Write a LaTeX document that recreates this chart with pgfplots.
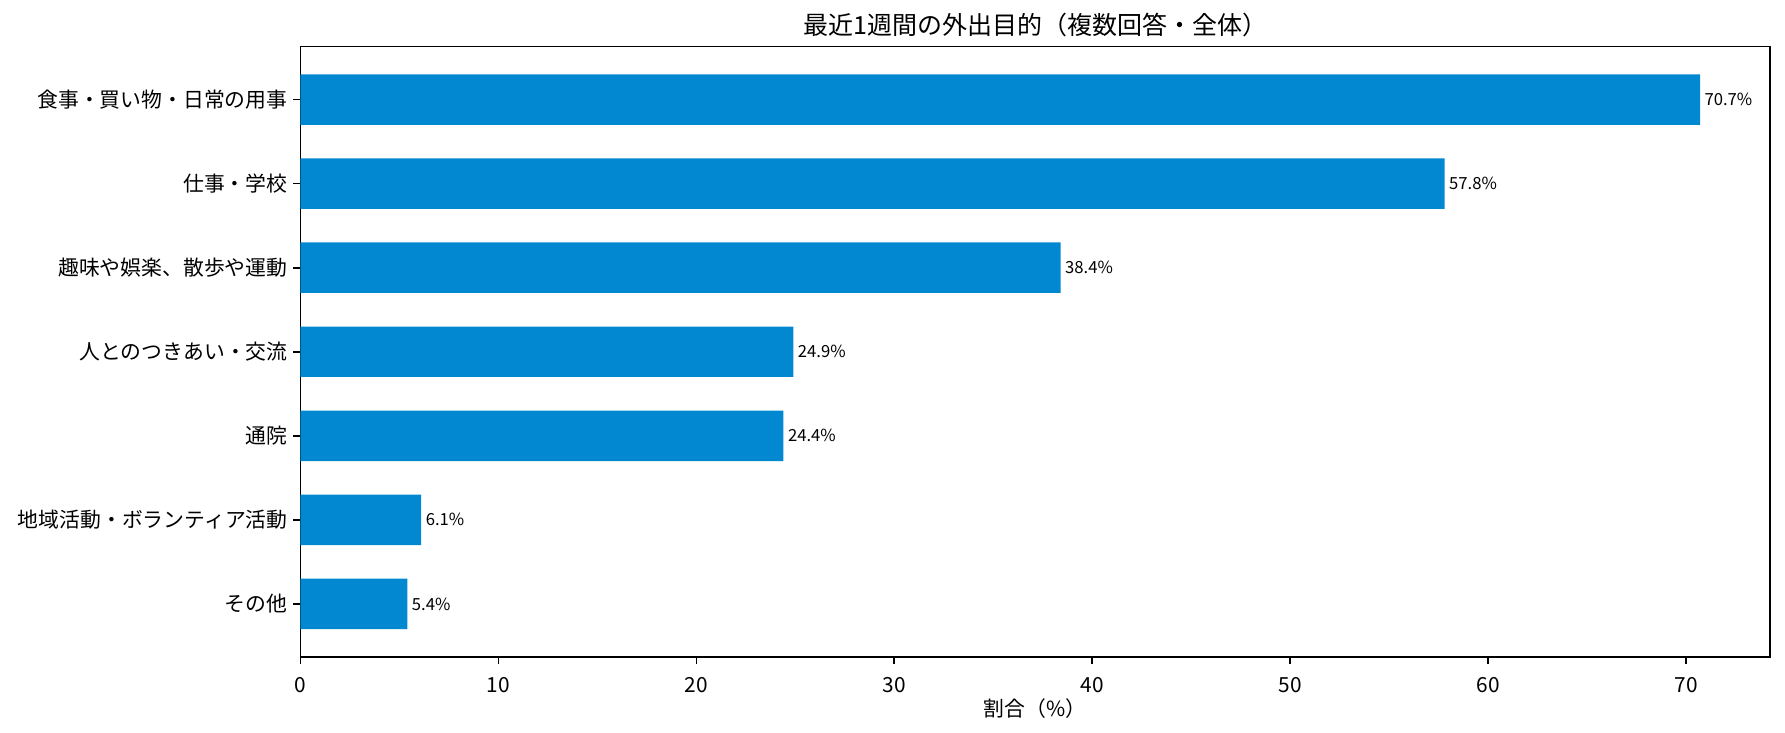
\documentclass[border=0pt]{standalone}
\usepackage{fontspec}
\setmainfont{Noto Sans CJK JP}
\usepackage{pgfplots}
\pgfplotsset{compat=1.18}
\usetikzlibrary{calc}
\definecolor{barblue}{HTML}{0288D1}
\begin{document}
\begin{tikzpicture}
\begin{axis}[
  name=ax,
  scale only axis,
  width=705.4pt, height=292.9pt,
  xbar, bar width=0.6,
  xmin=0, xmax=74.235,
  ymin=-0.63, ymax=6.63, y dir=reverse,
  ytick={0,1,2,3,4,5,6},
  yticklabels={食事・買い物・日常の用事, 仕事・学校, 趣味や娯楽、散歩や運動, 人とのつきあい・交流, 通院, 地域活動・ボランティア活動, その他},
  xtick={0,10,20,30,40,50,60,70},
  tick pos=left, tick align=outside, major tick length=3.5pt,
  axis line style={line width=0.8pt, black},
  every tick/.style={black, line width=0.8pt},
  /pgf/number format/assume math mode=true,
  ticklabel style={font=\fontsize{10}{12}\selectfont},
  xticklabel style={anchor=north, inner sep=0pt, yshift=-6pt},
  yticklabel style={anchor=east, inner sep=0pt, xshift=-2.5pt},
  title={最近1週間の外出目的（複数回答・全体）},
  title style={at={(0.5,1)}, anchor=south, inner sep=0pt, yshift=-1.6pt, font=\fontsize{12}{14}\selectfont},
  xlabel={割合（\%）},
  xlabel style={at={(axis description cs:0.5,0)}, anchor=north, inner sep=0pt, yshift=-20pt, font=\fontsize{10}{12}\selectfont},
  point meta=x,
  nodes near coords={\pgfmathprintnumber[fixed,fixed zerofill,precision=1,assume math mode=true]{\pgfplotspointmeta}\%},
  every node near coord/.append style={font=\fontsize{8}{9}\selectfont, anchor=west, inner sep=0pt, xshift=2pt, black},
]
\addplot[fill=barblue, draw=none] coordinates {
  (70.7,0) (57.8,1) (38.4,2) (24.9,3) (24.4,4) (6.1,5) (5.4,6)
};
\end{axis}
\pgfresetboundingbox
\path ($(ax.south west)+(-144.2pt,-36.5pt)$) rectangle ($(ax.north east)+(7.2pt,22.4pt)$);
\end{tikzpicture}
\end{document}
